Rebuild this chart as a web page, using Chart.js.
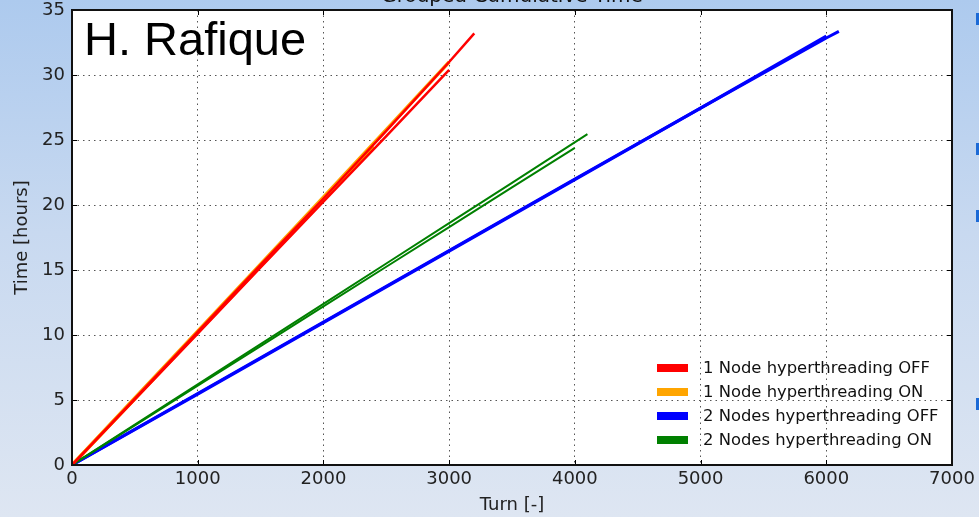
<!DOCTYPE html>
<html>
<head>
<meta charset="utf-8">
<script src="https://cdn.jsdelivr.net/npm/chart.js@4/dist/chart.umd.min.js"></script>
<style>
  html, body { margin: 0; padding: 0; }
  body {
    width: 979px; height: 517px; overflow: hidden; position: relative;
    background: linear-gradient(to bottom, #adcaee 0%, #c8d9f0 45%, #dee6f2 100%);
  }
  #wrap { position: absolute; left: 0; top: 0; width: 979px; height: 517px; }
  .bullet { position: absolute; left: 976px; width: 4px; height: 12px; background: #1c6ad6; }
</style>
</head>
<body>
<div id="wrap"><canvas id="chart" width="979" height="517"></canvas></div>
<div class="bullet" style="top:13px"></div>
<div class="bullet" style="top:143px"></div>
<div class="bullet" style="top:210px"></div>
<div class="bullet" style="top:398px"></div>
<script>
// values: turn number vs cumulative hours, one pair of arrays per run
const seriesNames = [
  '1 Node hyperthreading OFF',
  '1 Node hyperthreading ON',
  '2 Nodes hyperthreading OFF',
  '2 Nodes hyperthreading ON'
];

const node1OffRunA_turns = [0, 500, 1000, 1500, 2000, 2500, 3000, 3200];
const node1OffRunA_hours = [0, 5.1, 10.25, 15.4, 20.5, 25.7, 31.0, 33.2];
const node1OffRunB_turns = [0, 500, 1000, 1500, 2000, 2500, 3000];
const node1OffRunB_hours = [0, 5.05, 10.1, 15.2, 20.25, 25.3, 30.4];

const node1OnRunA_turns = [0, 500, 1000, 1500, 2000, 2500, 3000];
const node1OnRunA_hours = [0, 5.15, 10.3, 15.45, 20.6, 25.8, 31.0];
const node1OnRunB_turns = [0, 500, 1000, 1500, 2000, 2400];
const node1OnRunB_hours = [0, 5.1, 10.2, 15.3, 20.4, 24.5];

const nodes2OffRunA_turns = [0, 1000, 2000, 3000, 4000, 5000, 6000, 6100];
const nodes2OffRunA_hours = [0, 5.5, 11.0, 16.5, 22.0, 27.45, 32.85, 33.35];
const nodes2OffRunB_turns = [0, 1000, 2000, 3000, 4000, 5000, 6000];
const nodes2OffRunB_hours = [0, 5.45, 10.95, 16.45, 21.95, 27.45, 33.0];

const nodes2OnRunA_turns = [0, 500, 1000, 1500, 2000, 2500, 3000, 3500, 4100];
const nodes2OnRunA_hours = [0, 3.1, 6.2, 9.3, 12.4, 15.5, 18.6, 21.7, 25.45];
const nodes2OnRunB_turns = [0, 500, 1000, 1500, 2000, 2500, 3000, 3500, 4000];
const nodes2OnRunB_hours = [0, 3.05, 6.1, 9.15, 12.2, 15.25, 18.3, 21.35, 24.4];

const xTicks = [0, 1000, 2000, 3000, 4000, 5000, 6000, 7000];
const yTicks = [0, 5, 10, 15, 20, 25, 30, 35];

const chartTitle = 'Grouped Cumulative Time';
const stampText = 'H. Rafique';
const xTitle = 'Turn [-]';
const yTitle = 'Time [hours]';

const colors = ['#ff0000', '#ffa500', '#0000ff', '#008000'];

function pts(turns, hours) {
  return turns.map((t, i) => ({ x: t, y: hours[i] }));
}

function run(series, turns, hours, width, order) {
  return {
    label: seriesNames[series],
    data: pts(turns, hours),
    borderColor: colors[series],
    borderWidth: width,
    showLine: true,
    pointRadius: 0,
    tension: 0,
    order: order
  };
}

const datasets = [
  run(0, node1OffRunA_turns, node1OffRunA_hours, 2.5, 1),
  run(0, node1OffRunB_turns, node1OffRunB_hours, 2.5, 1),
  run(1, node1OnRunA_turns, node1OnRunA_hours, 3.5, 4),
  run(1, node1OnRunB_turns, node1OnRunB_hours, 3.5, 4),
  run(2, nodes2OffRunA_turns, nodes2OffRunA_hours, 3, 3),
  run(2, nodes2OffRunB_turns, nodes2OffRunB_hours, 3, 3),
  run(3, nodes2OnRunA_turns, nodes2OnRunA_hours, 2, 2),
  run(3, nodes2OnRunB_turns, nodes2OnRunB_hours, 2, 2)
];

const mplLook = {
  id: 'mplLook',
  beforeDraw(chart) {
    const { ctx, chartArea: a } = chart;
    ctx.save();
    ctx.fillStyle = '#ffffff';
    ctx.fillRect(a.left, a.top, a.right - a.left, a.bottom - a.top);
    ctx.restore();
  },
  afterDraw(chart) {
    const { ctx, chartArea: a, scales } = chart;
    ctx.save();

    // inward tick marks on all four sides
    ctx.strokeStyle = '#000';
    ctx.lineWidth = 1;
    ctx.beginPath();
    xTicks.forEach(v => {
      const x = Math.round(scales.x.getPixelForValue(v)) + 0.5;
      ctx.moveTo(x, a.bottom); ctx.lineTo(x, a.bottom - 5);
      ctx.moveTo(x, a.top); ctx.lineTo(x, a.top + 5);
    });
    yTicks.forEach(v => {
      const y = Math.round(scales.y.getPixelForValue(v)) + 0.5;
      ctx.moveTo(a.left, y); ctx.lineTo(a.left + 5, y);
      ctx.moveTo(a.right, y); ctx.lineTo(a.right - 5, y);
    });
    ctx.stroke();

    // frame
    ctx.lineWidth = 2;
    ctx.strokeStyle = '#111';
    ctx.strokeRect(a.left, a.top, a.right - a.left, a.bottom - a.top);

    // legend (no frame, inside lower right)
    ctx.font = '16.4px "DejaVu Sans"';
    ctx.textBaseline = 'middle';
    ctx.textAlign = 'left';
    seriesNames.forEach((name, i) => {
      const y = 368 + i * 24;
      ctx.fillStyle = colors[i];
      ctx.fillRect(657, y - 4, 31, 8);
      ctx.fillStyle = '#111';
      ctx.fillText(name, 703, y + 1);
    });

    // name stamp
    ctx.font = '47px "Liberation Sans"';
    ctx.textBaseline = 'alphabetic';
    ctx.fillStyle = '#000';
    ctx.fillText(stampText, 84, 55);

    // title, cut by the top edge
    ctx.font = '20px "DejaVu Sans"';
    ctx.textAlign = 'center';
    ctx.fillStyle = '#111';
    ctx.fillText(chartTitle, (a.left + a.right) / 2, 2);

    ctx.restore();
  }
};

new Chart(document.getElementById('chart'), {
  type: 'scatter',
  data: { datasets },
  options: {
    responsive: false,
    animation: false,
    events: [],
    layout: { padding: { top: 10, right: 27, left: 0, bottom: 0 } },
    plugins: { legend: { display: false }, tooltip: { enabled: false }, title: { display: false } },
    scales: {
      x: {
        type: 'linear',
        min: 0, max: 7000,
        afterFit: s => { s.height = 52; s.paddingLeft = 0; s.paddingRight = 0; },
        afterBuildTicks: s => { s.ticks = xTicks.map(v => ({ value: v })); },
        ticks: { font: { family: 'DejaVu Sans', size: 18 }, color: '#222', padding: 4, maxRotation: 0, callback: v => String(v) },
        grid: { color: '#555', lineWidth: 1, drawTicks: false },
        border: { display: false, dash: [1.5, 4] },
        title: { display: true, text: xTitle, font: { family: 'DejaVu Sans', size: 18 }, color: '#222', padding: { top: 0, bottom: 1 } }
      },
      y: {
        type: 'linear',
        min: 0, max: 35,
        afterFit: s => { s.width = 72; s.paddingTop = 0; s.paddingBottom = 0; },
        afterBuildTicks: s => { s.ticks = yTicks.map(v => ({ value: v })); },
        ticks: { font: { family: 'DejaVu Sans', size: 18 }, color: '#222', padding: 7, callback: v => String(v) },
        grid: { color: '#555', lineWidth: 1, drawTicks: false },
        border: { display: false, dash: [1.5, 4] },
        title: { display: true, text: yTitle, font: { family: 'DejaVu Sans', size: 18 }, color: '#222', padding: { top: 12, bottom: 0 } }
      }
    }
  },
  plugins: [mplLook]
});
</script>
</body>
</html>
